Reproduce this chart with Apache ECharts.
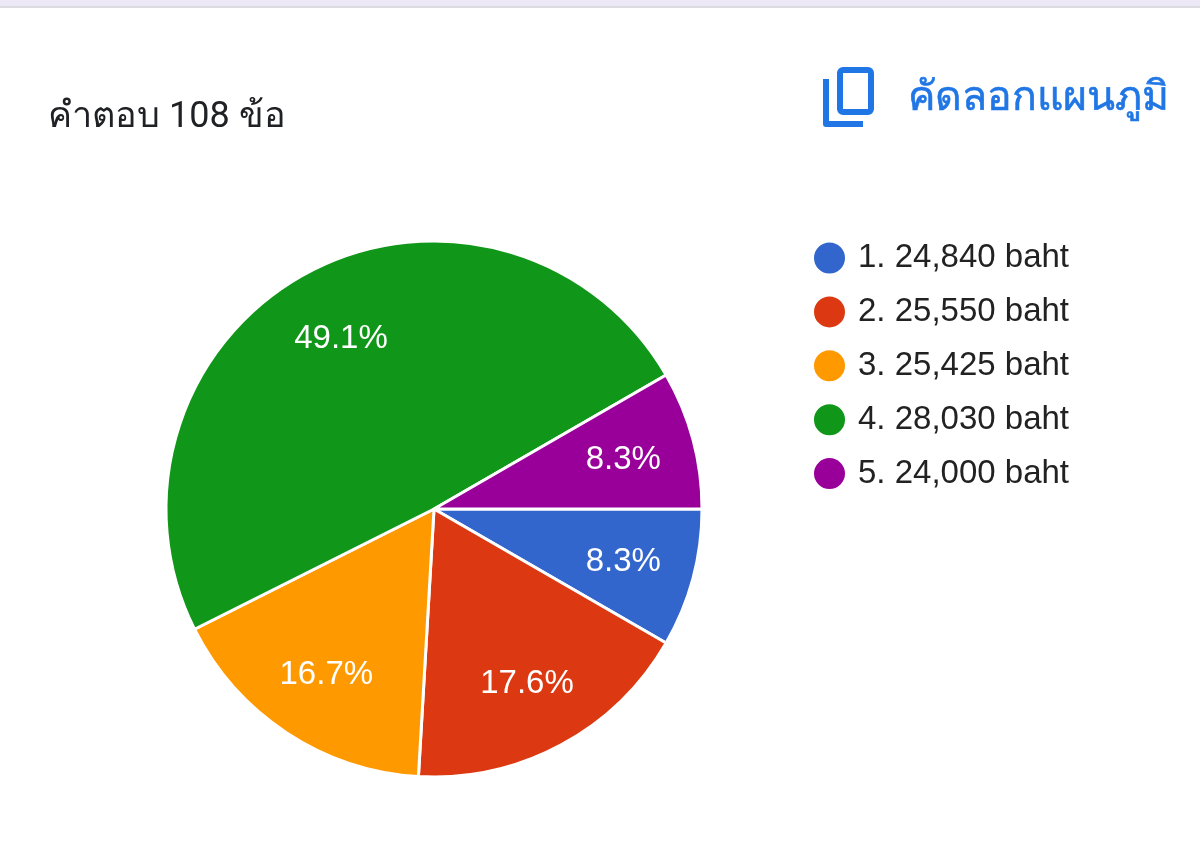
<!DOCTYPE html>
<html><head><meta charset="utf-8">
<style>html,body{margin:0;padding:0;background:#fff}#c{width:1200px;height:848px}</style>
<script src="https://cdn.jsdelivr.net/npm/echarts@6/dist/echarts.min.js"></script>
</head><body><div id="c"></div>
<script>
const categories = ['1. 24,840 baht','2. 25,550 baht','3. 25,425 baht','4. 28,030 baht','5. 24,000 baht'];
const counts = [9,19,18,53,9];
const colors = ['#3366cc','#dc3912','#ff9900','#109618','#990099'];
const titleText = 'คำตอบ 108 ข้อ';
const copyText = 'คัดลอกแผนภูมิ';
const FONT = 'Roboto, "Noto Sans", sans-serif';
const NUMFONT = '"Liberation Sans", Arial, sans-serif';
const pieData = categories.map((n,i)=>({name:n,value:counts[i]}));
const chart = echarts.init(document.getElementById('c'), null, {renderer:'canvas'});
chart.setOption({
  animation:false,
  backgroundColor:'#fff',
  color:colors,
  title:{text:titleText,left:43,top:95,textStyle:{fontFamily:FONT,fontSize:36,fontWeight:'normal',color:'#202124'}},
  legend:{
    orient:'vertical',left:807,top:235.5,itemWidth:33,itemHeight:33,itemGap:18.9,icon:'circle',
    selectedMode:false,
    data:categories,
    textStyle:{fontFamily:NUMFONT,fontSize:33,lineHeight:33,color:'#222',padding:[2,0,0,7]}
  },
  series:[{
    type:'pie',center:[434,509],radius:[0,268],startAngle:0,clockwise:true,
    data:pieData,
    itemStyle:{borderColor:'#fff',borderWidth:3},
    label:{show:false},
    labelLine:{show:false},
    emphasis:{disabled:true}
  },{
    type:'pie',center:[434,509],radius:[118,268],startAngle:0,clockwise:true,silent:true,
    data:pieData,
    itemStyle:{color:'rgba(0,0,0,0)',borderWidth:0},
    label:{position:'inside',formatter:p=>p.percent.toFixed(1)+'%',fontFamily:NUMFONT,fontSize:33,color:'#fff'},
    labelLayout:{dy:2},
    labelLine:{show:false},
    percentPrecision:1,
    emphasis:{disabled:true}
  }],
  graphic:[
    {type:'rect',shape:{x:0,y:0,width:1200,height:6},style:{fill:'#ece8f6'}},
    {type:'rect',shape:{x:0,y:6,width:1200,height:2},style:{fill:'#dcdce0'}},
    {type:'text',x:908,y:79,style:{text:copyText,fontFamily:FONT,fontSize:41,fill:'#1f76e4',stroke:'#1f76e4',lineWidth:0.6}},
    {type:'rect',shape:{x:840,y:70,width:31,height:42,r:3},style:{fill:'none',stroke:'#1f76e4',lineWidth:6}},
    {type:'polyline',shape:{points:[[826,79],[826,124],[863,124]]},style:{fill:'none',stroke:'#1f76e4',lineWidth:6,lineJoin:'round'}}
  ]
});
</script></body></html>
